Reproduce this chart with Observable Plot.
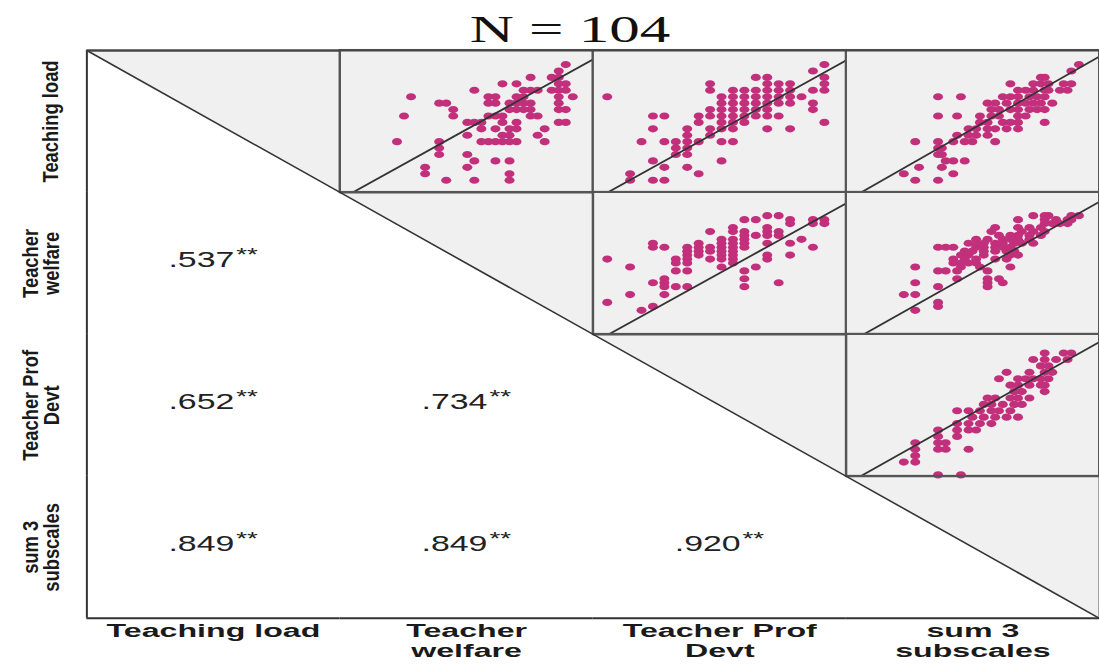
<!DOCTYPE html>
<html><head><meta charset="utf-8">
<script src="https://cdn.jsdelivr.net/npm/d3@7"></script>
<script src="https://cdn.jsdelivr.net/npm/@observablehq/plot@0.6"></script>
<style>
html,body{margin:0;padding:0;background:#fff;}
#wrap{position:relative;width:1099px;height:666px;overflow:hidden;background:#fff;}
#title{position:absolute;left:570px;top:11px;font-family:"Liberation Serif","Times New Roman",serif;font-size:37px;line-height:37px;white-space:nowrap;color:#111;transform:translateX(-50%) scaleX(1.65);}
#chart{position:absolute;left:0;top:45px;}
</style></head>
<body><div id="wrap"><div id="title"></div><div id="chart"></div></div>
<script>
// ---------- data ----------
const title = "N = 104";
const vars = ["Teaching load", "Teacher welfare", "Teacher Prof Devt", "sum 3 subscales"];
const varLabels = ["Teaching load", "Teacher\nwelfare", "Teacher Prof\nDevt", "sum 3\nsubscales"];
const varLo = [18.1, 6.9, 18.77, 44.9];
const varHi = [40.2, 42.9, 40.92, 111.4];

const corrRow = [1, 2, 2, 3, 3, 3];
const corrCol = [0, 0, 1, 0, 1, 2];
const corrText = [".537", ".652", ".734", ".849", ".849", ".920"];
const corrStars = "**";

// scatter cells: [x value (column variable), y value (row variable)]
const scatterRow = [0, 0, 0, 1, 1, 2];
const scatterCol = [1, 2, 3, 2, 3, 3];
const tlVsTw = [
  [39,38],[38,37],[34,36],[37,36],[38,36],[30,35],[32,35],[38,35],[39,35],
  [26,34],[33,34],[34,34],[35,34],[37,34],[38,34],[39,34],
  [17,33],[28,33],[29,33],[32,33],[33,33],[38,33],[40,33],
  [21,32],[22,32],[28,32],[29,32],[31,32],[32,32],[33,32],[34,32],[38,32],
  [23,31],[31,31],[32,31],[33,31],[34,31],[38,31],[39,31],
  [16,30],[23,30],[28,30],[29,30],[30,30],[34,30],[35,30],
  [25,29],[26,29],[27,29],[30,29],[32,29],[38,29],[39,29],
  [27,28],[29,28],[31,28],[32,28],[36,28],
  [25,27],[30,27],[31,27],[35,27],
  [15,26],[21,26],[27,26],[28,26],[29,26],[30,26],[31,26],[32,26],[36,26],
  [21,25],[21,24],[25,24],[26,23],[29,23],[31,23],[19,22],[25,22],[19,21],[31,21],
  [22,20],[26,20],[31,20]
];
const tlVsPd = [
  [39,38],[38,37],[33,36],[34,36],[39,36],[29,35],[34,35],[35,35],[36,35],[39,35],
  [29,34],[31,34],[32,34],[33,34],[34,34],[35,34],[36,34],[38,34],[39,34],
  [20,33],[30,33],[31,33],[32,33],[33,33],[34,33],[35,33],[36,33],[37,33],
  [30,32],[31,32],[32,32],[33,32],[34,32],[35,32],[36,32],[38,32],
  [29,31],[30,31],[31,31],[32,31],[33,31],[34,31],[38,31],
  [24,30],[25,30],[28,30],[29,30],[30,30],[31,30],[32,30],[33,30],[34,30],[35,30],
  [28,29],[30,29],[31,29],[32,29],[39,29],
  [24,28],[27,28],[29,28],[30,28],[31,28],[34,28],[36,28],
  [27,27],[29,27],
  [23,26],[25,26],[26,26],[27,26],[28,26],[30,26],[31,26],
  [26,25],[27,25],[26,24],[27,24],[24,23],[30,23],[25,22],[27,22],[22,21],[28,21],
  [22,20],[24,20],[25,20]
];
const tlVsSum = [
  [106,38],[104,37],[96,36],[97,36],
  [88,35],[94,35],[96,35],[98,35],[102,35],[104,35],
  [90,34],[92,34],[94,34],[97,34],[98,34],[101,34],[103,34],
  [69,33],[75,33],[86,33],[88,33],[90,33],[93,33],[95,33],[97,33],
  [82,32],[84,32],[87,32],[90,32],[92,32],[94,32],[96,32],[99,32],
  [83,31],[85,31],[88,31],[90,31],[93,31],[95,31],[97,31],
  [69,30],[74,30],[80,30],[83,30],[85,30],[90,30],[92,30],
  [80,29],[82,29],[86,29],[88,29],[90,29],[97,29],
  [77,28],[79,28],[82,28],[84,28],[87,28],[90,28],
  [74,27],[77,27],[79,27],[82,27],
  [63,26],[69,26],[73,26],[76,26],[78,26],[84,26],
  [69,25],[70,25],[69,24],[70,24],[71,23],[73,23],[76,23],[64,22],[70,22],
  [60,21],[73,21],[63,20],[69,20]
];
const twVsPd = [
  [34,37],[35,37],[32,36],[33,36],[36,36],[38,36],[39,36],[36,35],[38,35],[39,35],
  [31,34],[34,34],[29,33],[31,33],[32,33],[34,33],[35,33],
  [32,32],[33,32],[34,32],[35,32],[30,31],[31,31],[32,31],[37,31],
  [24,30],[28,30],[30,30],[31,30],[32,30],[34,30],[36,30],
  [24,29],[25,29],[27,29],[28,29],[29,29],[30,29],[31,29],[32,29],[38,29],
  [27,28],[28,28],[29,28],[30,28],[31,28],
  [27,27],[28,27],[30,27],[31,27],[34,27],[36,27],
  [20,26],[26,26],[27,26],[29,26],[30,26],[31,26],[34,26],
  [26,25],[27,25],[31,25],[22,24],[30,24],[33,24],[26,23],[27,23],[32,23],
  [25,21],[32,21],[24,20],[25,20],[35,20],[25,19],[26,19],[27,19],[32,19],
  [22,17],[25,17],[20,15],[24,14],[23,13]
];
const twVsSum = [
  [94,37],[97,37],[98,37],[104,37],[106,37],
  [90,36],[97,36],[100,36],[103,36],[104,36],
  [97,35],[99,35],[101,35],[103,35],
  [84,34],[90,34],[93,34],[96,34],
  [83,33],[91,33],[94,33],[97,33],
  [85,32],[88,32],[90,32],[93,32],[96,32],
  [79,31],[82,31],[86,31],[88,31],[90,31],[93,31],
  [77,30],[79,30],[81,30],[84,30],[86,30],[89,30],[91,30],[94,30],
  [69,29],[71,29],[73,29],[79,29],[81,29],[84,29],[86,29],[88,29],
  [76,28],[78,28],[81,28],[84,28],[87,28],[89,28],
  [75,27],[77,27],[81,27],[88,27],[90,27],
  [73,26],[76,26],[79,26],[84,26],[87,26],
  [73,25],[75,25],[77,25],[79,25],
  [63,24],[75,24],[80,24],[88,24],
  [69,23],[71,23],[74,23],[82,23],
  [74,21],[82,21],[85,21],[63,20],[82,20],[86,20],[69,19],[82,19],
  [60,17],[63,17],[69,15],[69,14],[63,13]
];
const pdVsSum = [
  [97,38],[102,38],[104,38],[94,37],[97,37],[100,37],[103,37],[96,36],[98,36],
  [87,35],[93,35],[97,35],[99,35],
  [85,34],[90,34],[92,34],[94,34],[96,34],[98,34],
  [88,33],[90,33],[93,33],[96,33],[97,33],
  [89,32],[91,32],[97,32],
  [82,31],[84,31],[88,31],[90,31],[93,31],
  [81,30],[83,30],[86,30],[89,30],[91,30],
  [74,29],[77,29],[80,29],[83,29],[85,29],[88,29],
  [78,28],[81,28],[84,28],[87,28],[90,28],
  [74,27],[77,27],[80,27],[83,27],
  [69,26],[74,26],[77,26],[79,26],[69,25],[74,25],
  [63,24],[69,24],[71,24],[63,23],[69,23],[71,23],[77,23],
  [63,22],[60,21],[63,21],[69,19],[75,19]
];
const scatterPairs = [tlVsTw, tlVsPd, tlVsSum, twVsPd, twVsSum, pdVsSum];
// fit line of each scatter cell: y = intercept + slope * x
const fitIntercept = [12.82, -1.66, 1.61, -25.3, -19.95, 2.54];
const fitSlope = [0.606, 0.986, 0.338, 1.6, 0.543, 0.334];

// ---------- derived tables ----------
const norm = (v, k) => (v - varLo[k]) / (varHi[k] - varLo[k]);
const cells = [];
for (let r = 0; r < vars.length; r++)
  for (let c = 0; c < vars.length; c++)
    cells.push({row: vars[r], col: vars[c], r, c, kind: r < c ? "upper" : r === c ? "diag" : "lower"});
const upper = cells.filter(d => d.kind === "upper");
const diag = cells.filter(d => d.kind === "diag");
const tri = diag.flatMap(d => [{...d, x: 0, y: 1}, {...d, x: 1, y: 0}]);
const points = scatterPairs.flatMap((pairs, i) => pairs.map(([xv, yv]) => ({
  col: vars[scatterCol[i]], row: vars[scatterRow[i]],
  x: norm(xv, scatterCol[i]), y: norm(yv, scatterRow[i])
})));
const fits = scatterRow.map((r, i) => {
  const c = scatterCol[i];
  const f = v => fitIntercept[i] + fitSlope[i] * v;
  return {row: vars[r], col: vars[c], y1: norm(f(varLo[c]), r), y2: norm(f(varHi[c]), r)};
});
const corrs = corrText.map((t, i) => ({row: vars[corrRow[i]], col: vars[corrCol[i]], text: t}));
const rowLabels = vars.map((v, i) => ({row: v, col: vars[0], text: varLabels[i]}));
const colLabels = vars.map((v, i) => ({row: vars[vars.length - 1], col: v, text: varLabels[i]}));

// ellipse symbol for the dots
const ellipse = {
  draw(ctx, size) {
    const r = Math.sqrt(size / Math.PI), rx = r * 1.4, ry = r, k = 0.5523;
    ctx.moveTo(rx, 0);
    ctx.bezierCurveTo(rx, ry * k, rx * k, ry, 0, ry);
    ctx.bezierCurveTo(-rx * k, ry, -rx, ry * k, -rx, 0);
    ctx.bezierCurveTo(-rx, -ry * k, -rx * k, -ry, 0, -ry);
    ctx.bezierCurveTo(rx * k, -ry, rx, -ry * k, rx, 0);
    ctx.closePath();
  }
};

const sans = "'Liberation Sans', Arial, sans-serif";
const zero = () => 0, one = () => 1;
const F = {fx: "col", fy: "row"};

document.getElementById("title").textContent = title;

const svg = Plot.plot({
  width: 1107, height: 621,
  marginLeft: 87, marginRight: 0, marginTop: 4, marginBottom: 43,
  x: {domain: [0, 1], axis: null},
  y: {domain: [0, 1], axis: null},
  fx: {domain: vars, padding: 0, axis: null},
  fy: {domain: vars, padding: 0, axis: null},
  style: {background: "transparent", overflow: "visible"},
  marks: [
    Plot.rect(upper, {...F, x1: zero, x2: one, y1: zero, y2: one, fill: "#f0f0f0"}),
    Plot.areaY(tri, {...F, x: "x", y1: one, y2: "y", z: "col", fill: "#f0f0f0"}),
    Plot.dot(points, {...F, x: "x", y: "y", r: 3.6, symbol: ellipse, fill: "#c2307c", stroke: "none"}),
    Plot.link(fits, {...F, x1: zero, x2: one, y1: "y1", y2: "y2", stroke: "#333", strokeWidth: 1.8, clip: true}),
    Plot.rect(upper, {...F, x1: zero, x2: one, y1: zero, y2: one, fill: "none", stroke: "#555", strokeWidth: 2}),
    Plot.ruleY(diag, {...F, y: one, stroke: "#555", strokeWidth: 2}),
    Plot.ruleX(diag, {...F, x: one, stroke: "#555", strokeWidth: 2}),
    Plot.link(diag, {...F, x1: zero, y1: one, x2: one, y2: zero, stroke: "#333", strokeWidth: 1.6}),
    Plot.ruleX(cells.filter(d => d.c === 0), {...F, x: zero, stroke: "#333", strokeWidth: 2}),
    Plot.ruleY(cells.filter(d => d.r === 3), {...F, y: zero, stroke: "#333", strokeWidth: 2}),
    Plot.ruleY(cells.filter(d => d.r === 0), {...F, y: one, stroke: "#444", strokeWidth: 2}),
    Plot.text(corrs, {...F, text: "text", frameAnchor: "middle", textAnchor: "end", dx: 21, dy: -3,
      fontSize: 22, fontFamily: sans, fill: "#222", ariaDescription: "sx-1.55"}),
    Plot.text(corrs, {...F, text: () => corrStars, frameAnchor: "middle", textAnchor: "start", dx: 23, dy: -8,
      fontSize: 18, fontFamily: sans, fill: "#222", ariaDescription: "sx-1.55"}),
    Plot.text(colLabels, {...F, text: "text", frameAnchor: "bottom", lineAnchor: "top", dy: 4,
      fontSize: 18, fontWeight: "bold", fontFamily: sans, lineHeight: 1.12, fill: "#1a1a1a", ariaDescription: "sx-1.8"}),
    Plot.text(rowLabels.filter(d => !d.text.includes("\n")), {...F, text: "text", frameAnchor: "left", textAnchor: "middle",
      lineAnchor: "middle", rotate: -90, dx: -36,
      fontSize: 18.5, fontWeight: "bold", fontFamily: sans, fill: "#1a1a1a", ariaDescription: "sx-1.25"}),
    Plot.text(rowLabels.filter(d => d.text.includes("\n")), {...F, text: "text", frameAnchor: "left", textAnchor: "middle",
      lineAnchor: "middle", rotate: -90, dx: -45,
      fontSize: 18.5, fontWeight: "bold", fontFamily: sans, lineHeight: 0.9, fill: "#1a1a1a", ariaDescription: "sx-1.25"})
  ]
});

// horizontal glyph stretch of the original figure
svg.querySelectorAll("g[aria-description]").forEach(g => {
  const m = /^sx-([\d.]+)$/.exec(g.getAttribute("aria-description") || "");
  if (!m) return;
  const s = m[1];
  g.querySelectorAll("text").forEach(t => {
    const tr = t.getAttribute("transform");
    if (tr && /^translate\([^)]*\)/.test(tr)) {
      t.setAttribute("transform", tr.replace(/^(translate\([^)]*\))/, `$1 scale(${s},1)`));
    } else {
      const x = t.getAttribute("x") || 0, y = t.getAttribute("y") || 0;
      t.removeAttribute("x"); t.removeAttribute("y");
      t.setAttribute("transform", `translate(${x},${y}) scale(${s},1)` + (tr ? " " + tr : ""));
    }
  });
});

document.getElementById("chart").appendChild(svg);
</script>
</body></html>
